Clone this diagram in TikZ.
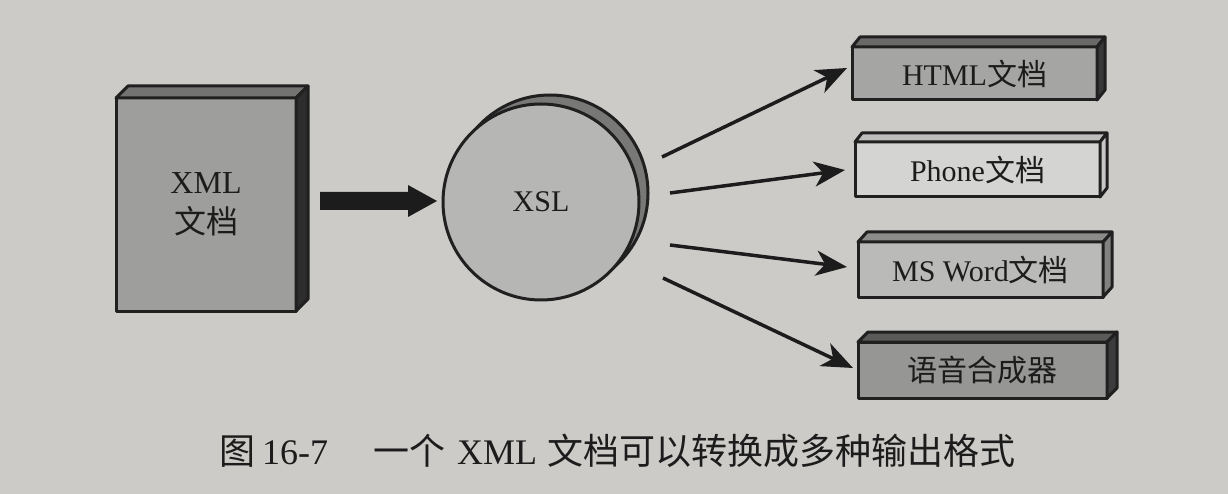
\documentclass[tikz,border=0pt]{standalone}
\usepackage{fontspec}
\setmainfont{Liberation Serif}
\newfontfamily\cjk{Noto Sans CJK SC}
\usetikzlibrary{arrows.meta,calc}
\definecolor{bg}{RGB}{204,203,200}
\definecolor{edge}{RGB}{32,32,32}
\definecolor{ink}{RGB}{28,28,28}
\definecolor{xmlf}{RGB}{158,158,156}
\definecolor{xmlt}{RGB}{115,115,113}
\definecolor{xmls}{RGB}{45,45,45}
\definecolor{circf}{RGB}{182,182,180}
\definecolor{circs}{RGB}{120,120,118}
\definecolor{htmlf}{RGB}{165,165,163}
\definecolor{htmlt}{RGB}{105,105,103}
\definecolor{htmls}{RGB}{55,55,55}
\definecolor{phonef}{RGB}{212,212,210}
\definecolor{phonet}{RGB}{190,190,188}
\definecolor{phones}{RGB}{200,200,198}
\definecolor{wordf}{RGB}{186,186,184}
\definecolor{wordt}{RGB}{140,140,138}
\definecolor{words}{RGB}{130,130,128}
\definecolor{ttsf}{RGB}{150,150,148}
\definecolor{ttst}{RGB}{90,90,88}
\definecolor{ttss}{RGB}{60,60,60}
\newcommand{\zh}[1]{{\cjk #1}}
\newcommand{\boxthree}[5]{%
  \draw[face, fill=#4] (#1.north west) -- ++(#2,-#3) -- ($(#1.north east)+(#2,-#3)$) -- (#1.north east) -- cycle;
  \draw[face, fill=#5] (#1.north east) -- ++(#2,-#3) -- ($(#1.south east)+(#2,-#3)$) -- (#1.south east) -- cycle;}
\tikzset{
  face/.style={draw=edge, line width=3pt, line join=round},
  front/.style={face, rectangle, inner sep=0pt, outer sep=0pt, text=ink,
    font=\fontsize{30}{39}\selectfont, align=center},
  outbox/.style={front, minimum width=245pt, minimum height=55pt},
  arr/.style={draw=ink, line width=3.5pt, -{Stealth[length=31pt,width=25pt,inset=9pt]}},
}
\begin{document}
\begin{tikzpicture}[x=1pt,y=-1pt]
\fill[bg] (0,0) rectangle (1228,494);
\useasboundingbox (0,0) rectangle (1228,494);

% XML document
\node[front, fill=xmlf, minimum width=180pt, minimum height=213pt,
  font=\fontsize{32}{40}\selectfont] (xml) at (206,204.5) {XML\\\zh{文档}};
\boxthree{xml}{12}{12}{xmlt}{xmls}

% XSL
\coordinate (xslc) at (541,202);
\draw[face, fill=circs] ($(xslc)+(9,-9)$) circle[radius=98];
\node[circle, face, fill=circf, minimum size=196pt, inner sep=0pt, outer sep=0pt,
  text=ink, font=\fontsize{30}{36}\selectfont] (xsl) at (xslc) {XSL};

% big arrow
\coordinate (ba) at (320,201);
\coordinate (bb) at (437,201);
\fill[ink] ($(ba)+(0,-9)$) -- ($(bb)+(-29,-9)$) -- ($(bb)+(-29,-16)$) -- (bb)
  -- ($(bb)+(-29,16)$) -- ($(bb)+(-29,9)$) -- ($(ba)+(0,9)$) -- cycle;

% outputs
\node[outbox, fill=htmlf, minimum height=53pt] (html) at (974.5,73.5) {HTML\zh{文档}};
\boxthree{html}{8}{10}{htmlt}{htmls}
\node[outbox, fill=phonef] (phone) at (977.5,169.5) {Phone\zh{文档}};
\boxthree{phone}{7}{9}{phonet}{phones}
\node[outbox, fill=wordf] (word) at (980.5,269.5) {MS Word\zh{文档}};
\boxthree{word}{9}{10}{wordt}{words}
\node[outbox, fill=ttsf, minimum width=249pt, minimum height=56pt] (tts) at (982.5,370) {\zh{语音合成器}};
\boxthree{tts}{10}{10}{ttst}{ttss}

% arrows
\coordinate (s1) at (662,157);
\coordinate (s2) at (670,193);
\coordinate (s3) at (670,245);
\coordinate (s4) at (663,278);
\draw[arr] (s1) -- ($(html.west)+(-5,-5.5)$);
\draw[arr] (s2) -- ($(phone.west)+(-10,0.5)$);
\draw[arr] (s3) -- ($(word.west)+(-11,-2.5)$);
\draw[arr] (s4) -- ($(tts.west)+(-5,-2)$);

% caption
\node[text=ink, font=\fontsize{36}{40}\selectfont, anchor=base west, inner sep=0pt] (cap) at (219,464)
  {\zh{图}\hspace{7pt}16-7\hspace{45pt}\zh{一个}\hspace{12pt}XML\hspace{10pt}\zh{文档可以转换成多种输出格式}};
\end{tikzpicture}
\end{document}
